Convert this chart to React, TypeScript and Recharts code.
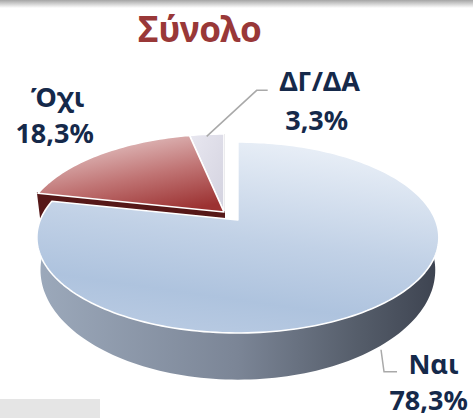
import React from "react";
import { PieChart, Pie, Tooltip } from "recharts";

// ---- data ----
const categories = ["ΔΓ/ΔΑ", "Όχι", "Ναι"];
const values = [3.3, 18.3, 78.3];
const valueLabels = ["3,3%", "18,3%", "78,3%"];
const explodedCategories = ["Ναι"];
const chartTitle = "Σύνολο";

const data = categories.map((name, i) => ({ name, value: values[i], pct: valueLabels[i] }));

// ---- styling / projection constants ----
const FONT = "'Noto Sans', 'DejaVu Sans', sans-serif";
const TEXT_COLOR = "#15294a";
const TITLE_COLOR = "#993838";
const PERSP = 0.183; // perspective strength
const SY = 0.467; // vertical squash of top plane
const SXB = 0.982; // bottom plane horizontal scale
const SYB = 0.536; // bottom plane vertical squash
const DEPTH = 30; // pie thickness at the apex
const EXPLODE = 0.11; // explosion distance (fraction of radius)

const STYLE: Record<string, { top: string; wall: string; face: string }> = {
  "ΔΓ/ΔΑ": { top: "url(#gTopD)", wall: "#9b99a8", face: "#9a9aa4" },
  "Όχι": { top: "url(#gTopO)", wall: "#5a1a1a", face: "#561818" },
  "Ναι": { top: "url(#gTopN)", wall: "url(#gWallN)", face: "#6f7a8a" },
};

const LABEL_LAYOUT: Record<string, { name: number[]; pct: number[]; line: number[][] | null }> = {
  "ΔΓ/ΔΑ": { name: [113, -43], pct: [110, -4], line: [[0, 2], [50, -44], [61, -44]] },
  "Όχι": { name: [-43, -47], pct: [-46, -11], line: null },
  "Ναι": { name: [51, 70], pct: [46, 106], line: [[-1.6, 46], [1.4, 68], [14.4, 68]] },
};

function proj(cx: number, cy: number, r: number, deg: number, rho = 1, bottom = false): [number, number] {
  const t = (deg * Math.PI) / 180;
  const c = Math.cos(t);
  const s = Math.sin(t);
  const d = 1 + PERSP * rho * s;
  if (!bottom) return [cx + (r * rho * c) / d, cy - (r * SY * rho * s) / d];
  return [cx + (r * SXB * rho * c) / d, cy + DEPTH - (r * SYB * rho * s) / d];
}

function explodeOffset(name: string, r: number, mid: number): [number, number] {
  if (!explodedCategories.includes(name)) return [0, 0];
  return proj(0, 0, r, mid, EXPLODE);
}

function arcPts(cx: number, cy: number, r: number, from: number, to: number, bottom: boolean) {
  const n = Math.max(2, Math.ceil(Math.abs(to - from) / 1.5));
  const pts: string[] = [];
  for (let i = 0; i <= n; i++) {
    const a = from + ((to - from) * i) / n;
    const [x, y] = proj(cx, cy, r, a, 1, bottom);
    pts.push(`${x.toFixed(2)},${y.toFixed(2)}`);
  }
  return pts;
}

function Slice3D(props: any) {
  const { cx, cy, outerRadius: r, startAngle, endAngle } = props;
  const name = props.payload?.name ?? props.name;
  const st = STYLE[name] ?? { top: props.fill, wall: props.fill, face: props.fill };
  const a0 = Math.min(startAngle, endAngle);
  const a1 = Math.max(startAngle, endAngle);
  const mid = (a0 + a1) / 2;
  const [ox, oy] = explodeOffset(name, r, mid);

  const faces: JSX.Element[] = [];
  const faceAt = (a: number, key: string) => {
    const [tx, ty] = proj(cx, cy, r, a, 1, false);
    const [bx, by] = proj(cx, cy, r, a, 1, true);
    faces.push(
      <polygon
        key={key}
        points={`${cx},${cy} ${tx},${ty} ${bx},${by} ${cx},${cy + DEPTH}`}
        fill={st.face}
        stroke={st.face}
        strokeWidth={2}
      />
    );
  };
  const rad = (a: number) => (a * Math.PI) / 180;
  if (Math.cos(rad(a0)) > -0.02) faceAt(a0, "f0");
  if (Math.cos(rad(a1)) < -0.02) faceAt(a1, "f1");

  const walls: JSX.Element[] = [];
  [-180, 180, 540].forEach((base) => {
    const lo = Math.max(a0, base);
    const hi = Math.min(a1, base + 180);
    if (hi > lo) {
      const top = arcPts(cx, cy, r, lo, hi, false);
      const bot = arcPts(cx, cy, r, hi, lo, true);
      walls.push(<path key={`w${base}`} d={`M${top.join(" L")} L${bot.join(" L")} Z`} fill={st.wall} />);
    }
  });

  const topArc = arcPts(cx, cy, r, a0, a1, false);
  const topPath = `M${cx},${cy} L${topArc.join(" L")} Z`;

  return (
    <g transform={`translate(${ox},${oy})`}>
      {faces}
      {walls}
      <path d={topPath} fill={st.top} stroke="#ffffff" strokeWidth={1.6} strokeLinejoin="round" />
    </g>
  );
}

const renderLabel = (props: any) => {
  const name = props.payload?.name ?? props.name;
  const L = LABEL_LAYOUT[name];
  if (!L) return null;
  const r = props.outerRadius;
  const [ox, oy] = explodeOffset(name, r, props.midAngle);
  const [ax, ay] = proj(props.cx + ox, props.cy + oy, r, props.midAngle, 1, false);
  const pct = props.payload?.pct ?? "";
  return (
    <g>
      {L.line && (
        <polyline
          points={L.line.map(([dx, dy]) => `${ax + dx},${ay + dy}`).join(" ")}
          fill="none"
          stroke="#a9a9a9"
          strokeWidth={1.5}
        />
      )}
      <text x={ax + L.name[0]} y={ay + L.name[1]} textAnchor="middle" fontFamily={FONT} fontWeight={700} fontSize={27} fill={TEXT_COLOR}>
        {name}
      </text>
      <text x={ax + L.pct[0]} y={ay + L.pct[1]} textAnchor="middle" fontFamily={FONT} fontWeight={700} fontSize={27} fill={TEXT_COLOR}>
        {pct}
      </text>
    </g>
  );
};

export default function App() {
  return (
    <div style={{ width: 473, height: 418, position: "relative", background: "#ffffff" }}>
      <style>{"body{margin:0;}"}</style>
      <PieChart width={473} height={418} margin={{ top: 0, right: 0, bottom: 0, left: 0 }}>
        <defs>
          <linearGradient id="gBand" x1="0" y1="0" x2="0" y2="1">
            <stop offset="0" stopColor="#a5a5a5" />
            <stop offset="1" stopColor="#ffffff" />
          </linearGradient>
          <linearGradient id="gTopN" x1="0.65" y1="0" x2="0.35" y2="1">
            <stop offset="0" stopColor="#e9eff7" />
            <stop offset="0.5" stopColor="#c1d1e6" />
            <stop offset="0.8" stopColor="#aec3de" />
            <stop offset="1" stopColor="#b8cae2" />
          </linearGradient>
          <linearGradient id="gWallN" x1="0" y1="0" x2="1" y2="0">
            <stop offset="0" stopColor="#9ca9bb" />
            <stop offset="0.5" stopColor="#7b8596" />
            <stop offset="0.8" stopColor="#555d6a" />
            <stop offset="1" stopColor="#3d4350" />
          </linearGradient>
          <linearGradient id="gTopO" x1="0.25" y1="0" x2="0.75" y2="1">
            <stop offset="0" stopColor="#e8cdcd" />
            <stop offset="0.55" stopColor="#c07474" />
            <stop offset="1" stopColor="#9c3232" />
          </linearGradient>
          <linearGradient id="gTopD" x1="0" y1="0" x2="1" y2="1">
            <stop offset="0" stopColor="#e8e7f0" />
            <stop offset="1" stopColor="#d3d2df" />
          </linearGradient>
        </defs>
        <rect x={0} y={0} width={473} height={8} fill="url(#gBand)" />
        <rect x={0} y={399} width={100} height={19} fill="#e5e5e5" />
        <text x={200} y={42} textAnchor="middle" fontFamily={FONT} fontWeight={700} fontSize={35} fill={TITLE_COLOR}>
          {chartTitle}
        </text>
        <Pie
          data={data}
          dataKey="value"
          nameKey="name"
          cx={224}
          cy={212}
          outerRadius={197.6}
          startAngle={90}
          endAngle={450}
          stroke="none"
          isAnimationActive={false}
          labelLine={false}
          label={renderLabel}
          shape={Slice3D as any}
          activeShape={Slice3D as any}
          inactiveShape={Slice3D as any}
        />
        <Tooltip defaultIndex={0} content={() => null} cursor={false} />
      </PieChart>
    </div>
  );
}
